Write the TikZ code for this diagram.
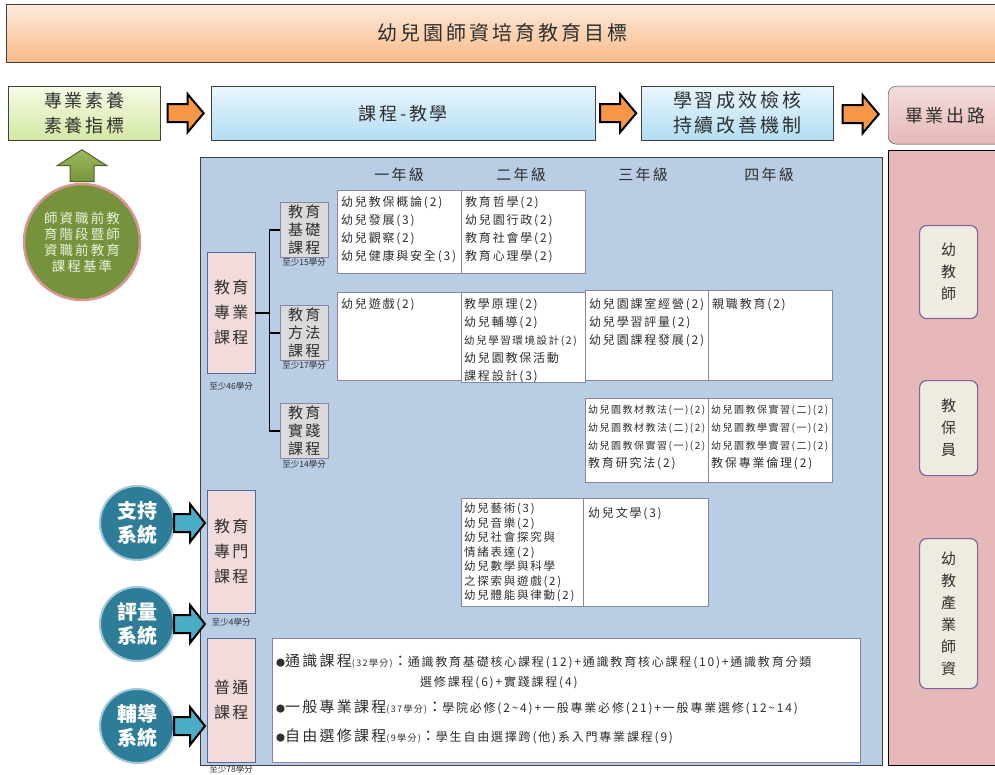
\documentclass[tikz,border=0pt]{standalone}
\usepackage{fontspec}
\setmainfont{Noto Sans CJK TC}
\newfontfamily\spaced{Noto Sans CJK TC}[LetterSpace=15]
\usetikzlibrary{positioning,calc}

\definecolor{peachtop}{HTML}{FDEBDD}
\definecolor{peachbot}{HTML}{F8B987}
\definecolor{limetop}{HTML}{F5FBE6}
\definecolor{limebot}{HTML}{D3E8A2}
\definecolor{skytop}{HTML}{E9F6FD}
\definecolor{skybot}{HTML}{B3DDF3}
\definecolor{rosefill}{HTML}{E6B9B8}
\definecolor{palepink}{HTML}{F2DCDB}
\definecolor{panelblue}{HTML}{B9CDE5}
\definecolor{greyfill}{HTML}{DADADA}
\definecolor{beige}{HTML}{EEECE1}
\definecolor{lilac}{HTML}{8064A2}
\definecolor{bordblue}{HTML}{4F6B9A}
\definecolor{bordgrey}{HTML}{8A84A8}
\definecolor{olivefill}{HTML}{76923C}
\definecolor{olivelight}{HTML}{9BBB59}
\definecolor{olivedark}{HTML}{4F6228}
\definecolor{olivetext}{HTML}{EBF1DE}
\definecolor{normring}{HTML}{D99694}
\definecolor{sysfill}{HTML}{2E7D98}
\definecolor{sysring}{HTML}{A5C8D8}
\definecolor{arrowteal}{HTML}{4BACC6}
\definecolor{arroworange}{HTML}{F79646}
\definecolor{ink}{HTML}{2F2F2F}

\newcommand{\gtitle}[2]{{\fontsize{9}{10}\selectfont ●}{\fontsize{15}{18}\selectfont #1}{\fontsize{9}{10}\selectfont (#2學分)}{\fontsize{15}{18}\selectfont ：}}

\tikzset{
	band/.style = {draw=black!75, anchor=north west, inner sep=0pt, text=ink, align=center, font=\spaced\fontsize{18}{25}\selectfont},
	limebox/.style = {band, top color=limetop, bottom color=limebot},
	skybox/.style = {band, top color=skytop, bottom color=skybot},
	exitbox/.style = {band, rounded corners=8pt, top color=palepink, bottom color=rosefill},
	panel/.style = {draw=black!75, anchor=north west, inner sep=0pt},
	jobbox/.style = {draw=lilac, line width=1.2pt, rounded corners=7pt, fill=beige, anchor=north west, inner sep=0pt, minimum width=58pt, text=ink, align=center, font=\fontsize{15}{22}\selectfont},
	maincourse/.style = {draw=bordblue, fill=palepink, anchor=north west, inner sep=0pt, minimum width=48pt, text=ink, align=center, font=\spaced\fontsize{16}{25}\selectfont},
	subcourse/.style = {draw=bordgrey, fill=greyfill, anchor=north west, inner sep=0pt, minimum width=48pt, minimum height=55pt, text=ink, align=center, font=\spaced\fontsize{15}{18}\selectfont},
	cellbox/.style = {draw=bordgrey, fill=white, anchor=north west, inner sep=0pt},
	celltext/.style = {anchor=north west, inner sep=0pt, align=left, text=ink, font=\spaced\fontsize{12}{18}\selectfont},
	creditlbl/.style = {inner sep=0pt, text=ink, font=\fontsize{8.5}{10}\selectfont},
	yearhead/.style = {inner sep=0pt, text=ink, font=\spaced\fontsize{15}{18}\selectfont},
	genline/.style = {anchor=west, inner sep=0pt, text=ink, font=\spaced\fontsize{12}{14}\selectfont},
	bracket/.style = {line width=1.8pt, black},
	goarrow/.style = {draw=black, line width=2pt, fill=arroworange},
	sysarrow/.style = {draw=black, line width=2pt, fill=arrowteal},
	greenarrow/.style = {draw=olivedark, line width=1pt, top color=olivelight, bottom color=olivefill},
	syscircle/.style = {circle, draw=sysring, line width=2pt, fill=sysfill, minimum size=74pt, inner sep=0pt, text=white, align=center, font=\bfseries\fontsize{20}{24}\selectfont},
	normcircle/.style = {circle, draw=normring, line width=2.5pt, fill=olivefill, minimum size=116pt, inner sep=0pt, text=olivetext, align=center, font=\spaced\fontsize{13.5}{16}\selectfont}
}

\begin{document}
\begin{tikzpicture}[x=1pt, y=-1pt]
	\useasboundingbox (0,0) rectangle (995,775);

	% goal band and the row below it
	\node[band, top color=peachtop, bottom color=peachbot, minimum width=992pt, minimum height=58pt, font=\spaced\fontsize{20}{24}\selectfont] (goal) at (6,4) {幼兒園師資培育教育目標};
	\node[limebox, minimum width=152pt, minimum height=54pt] (comp) at (8,86) {專業素養\\素養指標};
	\node[skybox, minimum width=384pt, minimum height=54pt] (teach) at (211,86) {課程-教學};
	\node[skybox, minimum width=192pt, minimum height=54pt, font=\spaced\fontsize{19}{25}\selectfont] (check) at (641,86) {學習成效檢核\\持續改善機制};
	\node[exitbox, minimum width=114pt, minimum height=58pt] (exit) at (888,86) {畢業出路};
	\foreach \a/\b in {comp/teach, teach/check, check/exit}
		\draw[goarrow] ($(\a.east)!.5!(\b.west)$) ++(-18,-9) -- ++(20,0) -- ++(0,-10) -- ++(16,19) -- ++(-16,19) -- ++(0,-10) -- ++(-20,0) -- cycle;

	% panels
	\node[panel, fill=panelblue, minimum width=682pt, minimum height=608pt] (panel) at (200,157) {};
	\node[panel, draw=black, fill=rosefill, minimum width=112pt, minimum height=615pt] (outlook) at (888,150) {};

	% standards circle
	\node[normcircle] (norm) at (82,242) {師資職前教\\育階段暨師\\資職前教育\\課程基準};
	\draw[greenarrow] (norm.north) ++(-12,-1) -- ++(0,-16) -- ++(-13,0) -- ++(25,-16) -- ++(25,16) -- ++(-13,0) -- ++(0,16) -- cycle;

	% support systems
	\foreach \s/\t/\y in {support/支持/523, assess/評量/624, guide/輔導/726}{
		\node[syscircle] (\s) at (137,\y) {\t\\系統};
		\draw[sysarrow] (\s.east) ++(-1,-9) -- ++(16,0) -- ++(0,-10) -- ++(15,19) -- ++(-15,19) -- ++(0,-10) -- ++(-16,0) -- cycle;
	}

	% course groups
	\node[maincourse, minimum height=121pt] (prof) at (207,252) {教育\\專業\\課程};
	\node[creditlbl, below=9pt of prof] (profcr) {至少46學分};
	\node[subcourse] (basic) at (280,202) {教育\\基礎\\課程};
	\node[creditlbl, below=1pt of basic] (basiccr) {至少15學分};
	\node[subcourse] (method) at (280,305) {教育\\方法\\課程};
	\node[creditlbl, below=1pt of method] (methodcr) {至少17學分};
	\node[subcourse] (practice) at (280,403) {教育\\實踐\\課程};
	\node[creditlbl, below=2pt of practice] (practicecr) {至少14學分};
	\draw[bracket] (prof.east) -- ++(14,0) coordinate (fork);
	\draw[bracket] (fork |- basic.west) -- (fork |- practice.west);
	\foreach \n in {basic, method, practice}
		\draw[bracket] (fork |- \n.west) -- (\n.west);

	\node[maincourse, minimum height=123pt] (special) at (207,490) {教育\\專門\\課程};
	\node[creditlbl, below=5pt of special] (specialcr) {至少4學分};
	\node[maincourse, minimum height=124pt] (general) at (207,638) {普通\\課程};
	\node[creditlbl, below=3pt of general] (generalcr) {至少78學分};

	% years
	\foreach \x/\t in {399/一年級, 521/二年級, 643/三年級, 769/四年級}
		\node[yearhead] (yr\x) at (\x,175) {\t};

	% course cells
	\node[cellbox, minimum width=124pt, minimum height=83pt] (c11) at (337,190) {};
	\node[cellbox, minimum width=124pt, minimum height=83pt] (c12) at (461,190) {};
	\node[cellbox, minimum width=124pt, minimum height=88pt] (c21) at (337,292) {};
	\node[cellbox, minimum width=124pt, minimum height=90pt] (c22) at (461,292) {};
	\node[cellbox, minimum width=123pt, minimum height=90pt] (c23) at (585,290) {};
	\node[cellbox, minimum width=124pt, minimum height=90pt] (c24) at (708,290) {};
	\node[cellbox, minimum width=123pt, minimum height=84pt] (c33) at (585,398) {};
	\node[cellbox, minimum width=124pt, minimum height=84pt] (c34) at (708,398) {};
	\node[cellbox, minimum width=122pt, minimum height=108pt] (c42) at (461,498) {};
	\node[cellbox, minimum width=125pt, minimum height=108pt] (c43) at (583,498) {};
	\node[cellbox, minimum width=588pt, minimum height=124pt] (c5) at (272,638) {};

	\node[celltext] (t11) at ([shift={(4,6)}]c11.north west) {幼兒教保概論(2)\\幼兒發展(3)\\幼兒觀察(2)\\幼兒健康與安全(3)};
	\node[celltext] (t12) at ([shift={(4,6)}]c12.north west) {教育哲學(2)\\幼兒園行政(2)\\教育社會學(2)\\教育心理學(2)};
	\node[celltext] (t21) at ([shift={(4,6)}]c21.north west) {幼兒遊戲(2)};
	\node[celltext] (t22) at ([shift={(3,6)}]c22.north west) {教學原理(2)\\幼兒輔導(2)\\{\fontsize{10.5}{18}\selectfont 幼兒學習環境設計(2)}\\幼兒園教保活動\\課程設計(3)};
	\node[celltext] (t23) at ([shift={(4,8)}]c23.north west) {幼兒園課室經營(2)\\幼兒學習評量(2)\\幼兒園課程發展(2)};
	\node[celltext] (t24) at ([shift={(4,8)}]c24.north west) {親職教育(2)};
	\node[celltext, font=\spaced\fontsize{10}{18}\selectfont] (t33) at ([shift={(3,7)}]c33.north west) {幼兒園教材教法(一)(2)\\幼兒園教材教法(二)(2)\\幼兒園教保實習(一)(2)\\{\fontsize{12}{18}\selectfont 教育研究法(2)}};
	\node[celltext, font=\spaced\fontsize{10}{18}\selectfont] (t34) at ([shift={(3,7)}]c34.north west) {幼兒園教保實習(二)(2)\\幼兒園教學實習(一)(2)\\幼兒園教學實習(二)(2)\\{\fontsize{12}{18}\selectfont 教保專業倫理(2)}};
	\node[celltext, font=\spaced\fontsize{11.5}{14.5}\selectfont] (t42) at ([shift={(3,5)}]c42.north west) {幼兒藝術(3)\\幼兒音樂(2)\\幼兒社會探究與\\情緒表達(2)\\幼兒數學與科學\\之探索與遊戲(2)\\幼兒體能與律動(2)};
	\node[celltext] (t43) at ([shift={(5,9)}]c43.north west) {幼兒文學(3)};

	\node[genline] (g1) at (276,661) {\gtitle{通識課程}{32}通識教育基礎核心課程(12)+通識教育核心課程(10)+通識教育分類};
	\node[genline] (g1b) at (420,683) {選修課程(6)+實踐課程(4)};
	\node[genline] (g2) at (276,707) {\gtitle{一般專業課程}{37}學院必修(2\textasciitilde4)+一般專業必修(21)+一般專業選修(12\textasciitilde14)};
	\node[genline] (g3) at (276,736) {\gtitle{自由選修課程}{9}學生自由選擇跨(他)系入門專業課程(9)};

	% career outlooks
	\node[jobbox, minimum height=93pt] (teacher) at (919,225) {幼\\教\\師};
	\node[jobbox, minimum height=95pt] (carer) at (919,380) {教\\保\\員};
	\node[jobbox, minimum height=150pt] (trainer) at (919,538) {幼\\教\\產\\業\\師\\資};
\end{tikzpicture}
\end{document}
